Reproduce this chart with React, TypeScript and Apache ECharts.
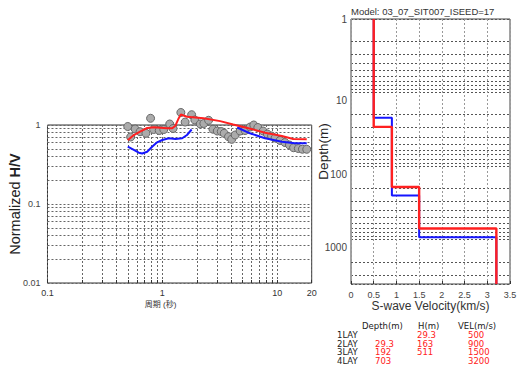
import React, { useEffect, useRef } from 'react';
import * as echarts from 'echarts';

// ---- H/V data (period in s, normalized H/V) ----
const hvPeriod = [0.50, 0.53, 0.58, 0.64, 0.72, 0.79, 0.84, 0.94, 1.03, 1.16, 1.24, 1.45, 1.58, 1.80, 1.92, 2.14, 2.30, 2.53, 2.76, 3.01, 3.26, 3.46, 3.77, 4.02, 4.31, 4.76, 5.26, 5.82, 6.26, 6.79, 7.55, 8.22, 8.94, 9.59, 10.6, 11.7, 12.8, 13.9, 15.3, 16.6, 18.1];
const hvObserved = [0.957, 0.705, 0.890, 0.823, 0.785, 1.216, 0.877, 0.852, 0.877, 1.03, 0.903, 1.44, 1.09, 1.35, 1.157, 1.03, 1.045, 1.147, 0.885, 0.839, 0.827, 0.785, 0.711, 0.659, 0.747, 0.839, 0.852, 0.943, 1.0, 0.93, 0.839, 0.769, 0.726, 0.685, 0.637, 0.600, 0.558, 0.516, 0.504, 0.494, 0.493];

const fitPeriod = [0.50, 0.565, 0.646, 0.738, 0.842, 0.963, 1.10, 1.22, 1.30, 1.39, 1.45, 1.64, 2.29, 3.19, 4.14, 5.62, 7.85, 11.0, 13.8, 18.1];
const fitHV = [0.640, 0.747, 0.832, 0.916, 0.935, 0.924, 0.908, 0.908, 0.98, 1.22, 1.36, 1.27, 1.216, 1.12, 1.015, 0.908, 0.799, 0.726, 0.665, 0.659];

const initPeriodA = [0.50, 0.565, 0.624, 0.668, 0.738, 0.815, 0.901, 1.0, 1.14, 1.30, 1.49, 1.64, 1.80];
const initHVA = [0.531, 0.483, 0.446, 0.436, 0.459, 0.531, 0.604, 0.646, 0.679, 0.665, 0.679, 0.747, 0.877];
const initPeriodB = [4.49, 5.62, 7.85, 11.0, 14.3, 18.1];
const initHVB = [0.93, 0.799, 0.679, 0.615, 0.586, 0.586];

// ---- velocity models ----
const layerNames = ['1LAY', '2LAY', '3LAY', '4LAY'];
const finalVel = [500, 900, 1500, 3200];
const finalThick = [29.3, 163, 511];
const initVel = [500, 900, 1500, 3200];
const initBounds = [22, 250, 925];

// ---- axis ticks ----
const periodLabels = [0.1, 1, 10, 20];
const periodGrid = [0.1, 0.2, 0.3, 0.4, 0.5, 0.6, 0.7, 0.8, 0.9, 1, 2, 3, 4, 5, 6, 7, 8, 9, 10, 20];
const hvLabels = [0.01, 0.1, 1];
const hvGrid = [0.01, 0.02, 0.03, 0.04, 0.05, 0.06, 0.07, 0.08, 0.09, 0.1, 0.2, 0.3, 0.4, 0.5, 0.6, 0.7, 0.8, 0.9, 1];
const depthLabels = [1, 10, 100, 1000];
const depthGrid = [1, 2, 3, 4, 5, 6, 7, 8, 9, 10, 20, 30, 40, 50, 60, 70, 80, 90, 100, 200, 300, 400, 500, 600, 700, 800, 900, 1000, 2000, 3000, 4000];

const FONT = "'Liberation Sans', 'Noto Sans CJK JP', sans-serif";
const TABLE_FONT = "'DejaVu Sans', 'Liberation Sans', sans-serif";

function pairs(xs: number[], ys: number[]) {
  return xs.map((x, i) => [x, ys[i]]);
}

function stepModel(vel: number[], bounds: number[], top: number, bottom: number) {
  const edges = [top, ...bounds, bottom];
  const pts: number[][] = [];
  vel.forEach((v, i) => {
    pts.push([v / 1000, edges[i]]);
    pts.push([v / 1000, edges[i + 1]]);
  });
  return pts;
}

function fmtNum(v: number) {
  return String(Number(Number(v).toPrecision(3)));
}

export default function App() {
  const ref = useRef<HTMLDivElement>(null);
  useEffect(() => {
    if (!ref.current) return;
    const chart = echarts.init(ref.current, null, { renderer: 'svg' });

    const finalBounds: number[] = [];
    finalThick.reduce((acc, h) => {
      const d = acc + h;
      finalBounds.push(d);
      return d;
    }, 0);
    const fmtDepth = (d: number) => (d < 100 ? d.toFixed(1) : String(Math.round(d)));

    const gridLine = { show: true, lineStyle: { color: '#666', type: [2, 2], width: 1 } };
    const txt = (text: string, x: number, y: number, fill: string) => ({
      type: 'text',
      x,
      y,
      style: { text, fill, font: `8.5px ${TABLE_FONT}`, lineHeight: 8, textVerticalAlign: 'middle', verticalAlign: 'middle' },
    });

    const rowsY = [335, 343.5, 352, 360.5];
    const graphics: any[] = [
      txt('Depth(m)', 362, 326, '#222'),
      txt('H(m)', 418, 326, '#222'),
      txt('VEL(m/s)', 458, 326, '#222'),
    ];
    layerNames.forEach((n, i) => {
      graphics.push(txt(n, 337, rowsY[i], '#222'));
      if (i > 0) graphics.push(txt(fmtDepth(finalBounds[i - 1]), 375, rowsY[i], '#ff2020'));
      if (i < finalThick.length) graphics.push(txt(fmtNum(finalThick[i]), 417, rowsY[i], '#ff2020'));
      graphics.push(txt(String(finalVel[i]), 468, rowsY[i], '#ff2020'));
    });

    const option: any = {
      animation: false,
      textStyle: { fontFamily: FONT },
      title: {
        text: 'Model: 03_07_SIT007_ISEED=17',
        left: 351,
        top: 7,
        padding: 0,
        textStyle: { fontSize: 9.5, fontWeight: 'normal', color: '#333', fontFamily: FONT },
      },
      grid: [
        { left: 46.7, top: 125, width: 265, height: 158, show: true, borderColor: '#333', borderWidth: 1, backgroundColor: '#fff' },
        { left: 351, top: 19, width: 159, height: 265, show: true, borderColor: '#444', borderWidth: 1, backgroundColor: '#fff' },
      ],
      xAxis: [
        {
          type: 'log', gridIndex: 0, min: 0.1, max: 20, logBase: 10,
          axisLine: { show: false },
          axisTick: { show: true, inside: true, length: 3, customValues: periodGrid, lineStyle: { color: '#333' } },
          axisLabel: { customValues: periodLabels, fontSize: 9, color: '#333', margin: 5, formatter: (v: number) => fmtNum(v) },
          splitLine: gridLine,
          name: '周期 (秒)', nameLocation: 'middle', nameGap: 17, nameMoveOverlap: false,
          nameTextStyle: { fontSize: 8, color: '#333', padding: [0, 38, 0, 0] },
        },
        {
          type: 'value', gridIndex: 1, min: 0, max: 3.5, interval: 0.5,
          axisLine: { show: false },
          axisTick: { show: true, inside: true, length: 3, lineStyle: { color: '#333' } },
          axisLabel: { fontSize: 9, color: '#444', margin: 6, showMaxLabel: true, showMinLabel: true },
          splitLine: { show: true, lineStyle: { color: '#999', type: [2, 2], width: 1 } },
          name: 'S-wave Velocity(km/s)', nameLocation: 'middle', nameGap: 16, nameMoveOverlap: false,
          nameTextStyle: { fontSize: 12, color: '#333' },
        },
      ],
      yAxis: [
        {
          type: 'log', gridIndex: 0, min: 0.01, max: 1, logBase: 10,
          axisLine: { show: false },
          axisTick: { show: false, customValues: hvGrid },
          axisLabel: { customValues: hvLabels, fontSize: 9, color: '#444', margin: 7, formatter: (v: number) => fmtNum(v) },
          splitLine: gridLine,
          name: '{n|Normalized }{b|H/V}', nameLocation: 'middle', nameGap: 25, nameMoveOverlap: false,
          nameTextStyle: {
            rich: {
              n: { fontSize: 14.5, color: '#222', fontFamily: FONT },
              b: { fontSize: 14.5, color: '#222', fontWeight: 'bold', fontFamily: FONT },
            },
          },
        },
        {
          type: 'log', gridIndex: 1, min: 1, max: 4000, logBase: 10, inverse: true,
          axisLine: { show: false },
          axisTick: { show: false, customValues: depthGrid },
          axisLabel: {
            customValues: depthLabels, fontSize: 10, color: '#444', margin: 4,
            formatter: (v: number) => (v < 5 ? `{a|${fmtNum(v)}}` : `{b|${fmtNum(v)}}`),
            rich: { a: { fontSize: 10, color: '#444' }, b: { fontSize: 10, color: '#444', padding: [16, 0, 0, 0] } },
          },
          splitLine: { show: true, lineStyle: { color: '#555', type: [2, 2], width: 1 } },
          name: 'Depth(m)', nameLocation: 'middle', nameGap: 21, nameMoveOverlap: false,
          nameTextStyle: { fontSize: 13.5, color: '#222' },
        },
      ],
      series: [
        {
          type: 'scatter', xAxisIndex: 0, yAxisIndex: 0, data: pairs(hvPeriod, hvObserved),
          symbol: 'circle', symbolSize: 8, clip: false, z: 2,
          itemStyle: { color: '#ababab', borderColor: '#686868', borderWidth: 1, opacity: 1 },
        },
        {
          type: 'line', xAxisIndex: 0, yAxisIndex: 0, data: pairs(initPeriodA, initHVA),
          showSymbol: false, clip: false, z: 3, lineStyle: { color: '#1515ff', width: 2 }, itemStyle: { color: '#1515ff' },
        },
        {
          type: 'line', xAxisIndex: 0, yAxisIndex: 0, data: pairs(initPeriodB, initHVB),
          showSymbol: false, clip: false, z: 3, lineStyle: { color: '#1515ff', width: 2 }, itemStyle: { color: '#1515ff' },
        },
        {
          type: 'line', xAxisIndex: 0, yAxisIndex: 0, data: pairs(fitPeriod, fitHV),
          showSymbol: false, clip: false, z: 4, lineStyle: { color: '#ff2020', width: 2 }, itemStyle: { color: '#ff2020' },
        },
        {
          type: 'line', xAxisIndex: 1, yAxisIndex: 1, data: stepModel(initVel, initBounds, 1, 4000),
          showSymbol: false, z: 3, lineStyle: { color: '#1515ff', width: 2 }, itemStyle: { color: '#1515ff' },
        },
        {
          type: 'line', xAxisIndex: 1, yAxisIndex: 1, data: stepModel(finalVel, finalBounds, 1, 4000),
          showSymbol: false, z: 4, lineStyle: { color: '#ff2020', width: 2.4 }, itemStyle: { color: '#ff2020' },
        },
      ],
      graphic: graphics,
    };
    chart.setOption(option);
    return () => chart.dispose();
  }, []);
  return <div ref={ref} style={{ position: 'fixed', left: 0, top: 0, width: 524, height: 377, background: '#fff' }} />;
}
